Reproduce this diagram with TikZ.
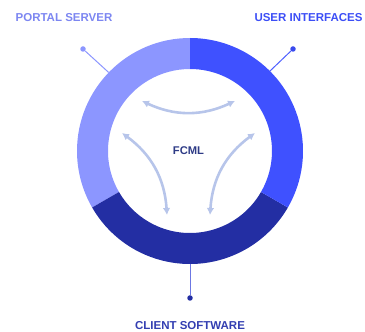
\documentclass[tikz,border=0pt]{standalone}
\usepackage{fontspec}
\setmainfont{Liberation Sans}
\usetikzlibrary{positioning, calc, arrows.meta}
\definecolor{lightseg}{HTML}{8C96FF}
\definecolor{brightseg}{HTML}{3F51FF}
\definecolor{darkseg}{HTML}{232EA3}
\definecolor{flowblue}{HTML}{B7C5EA}
\definecolor{hubtext}{HTML}{2E3B86}
\tikzstyle{Flow} = [
    line width = 2.6pt, flowblue,
    {Latex[length=7pt, width=7.5pt]}-{Latex[length=7pt, width=7.5pt]}
]

\begin{document}
\begin{tikzpicture}[
x = 1pt, y = 1pt,
label/.style = {font = \fontsize{11.5}{13}\selectfont\bfseries, inner sep = 0pt},
pin/.style = {circle, fill, inner sep = 0pt, minimum size = 5.5pt},
stem/.style = {line width = 1pt}
]
\useasboundingbox (0,0) rectangle (365,332);

\coordinate (hub) at (190,181);

% ring segments
\fill[lightseg] ($(hub)+(90:113)$) arc[start angle=90, end angle=210, radius=113]
    -- ($(hub)+(210:82)$) arc[start angle=210, end angle=90, radius=82] -- cycle;
\fill[darkseg] ($(hub)+(210:113)$) arc[start angle=210, end angle=330, radius=113]
    -- ($(hub)+(330:82)$) arc[start angle=330, end angle=210, radius=82] -- cycle;
\fill[brightseg] ($(hub)+(-30:113)$) arc[start angle=-30, end angle=90, radius=113]
    -- ($(hub)+(90:82)$) arc[start angle=90, end angle=-30, radius=82] -- cycle;

\node[font = \fontsize{11.2}{13}\selectfont\bfseries, text = hubtext] (fcml) at (188.5,181) {FCML};

% pins and labels
\node[pin, lightseg] (portal pin) at (83,283) {};
\node[pin, fill = brightseg!80!darkseg] (ui pin) at (293,283) {};
\node[pin, darkseg] (client pin) at (190,34) {};
\coordinate (portal ring) at ($(hub)+(136:113)$);
\coordinate (ui ring) at ($(hub)+(45:113)$);
\coordinate (client ring) at ($(hub)+(270:113)$);
\draw[stem, lightseg] (portal pin) -- (portal ring);
\draw[stem, brightseg!80!lightseg] (ui pin) -- (ui ring);
\draw[stem, lightseg!70!darkseg] (client pin) -- (client ring);

\node[label, text = lightseg!85!darkseg] (portal) at (64,314) {PORTAL SERVER};
\node[label, text = brightseg!90!darkseg] (ui) at (308.5,314) {USER INTERFACES};
\node[label, text = darkseg!85!lightseg] (client) at (190,6) {CLIENT SOFTWARE};

% flows between the three parts
\coordinate (top a) at (142,231);
\coordinate (top b) at (235,231);
\coordinate (left a) at (122,199);
\coordinate (left b) at (167,117);
\coordinate (right a) at (255,199);
\coordinate (right b) at (210,117);
\draw[Flow] (top a) to [bend right=25] (top b);
\draw[Flow] (left a) to [bend left=25] (left b);
\draw[Flow] (right a) to [bend right=25] (right b);

\end{tikzpicture}
\end{document}
